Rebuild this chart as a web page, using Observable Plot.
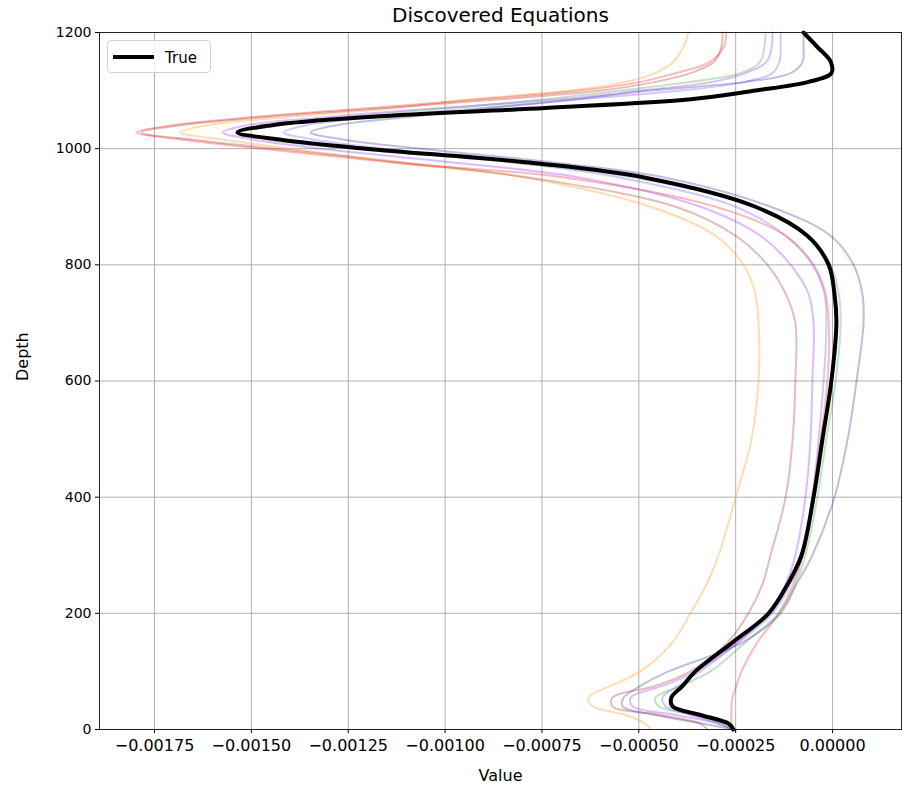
<!DOCTYPE html>
<html><head><meta charset="utf-8">
<script src="https://cdn.jsdelivr.net/npm/d3@7"></script>
<script src="https://cdn.jsdelivr.net/npm/@observablehq/plot@0.6"></script>
<style>
body{margin:0;background:#fff;font-family:"DejaVu Sans",sans-serif}
#wrap{position:relative;width:905px;height:785px}
#legend{position:absolute;left:107px;top:40px;width:104px;height:33px;border:1px solid #d0d0d0;border-radius:4px;background:rgba(255,255,255,0.85);box-sizing:border-box}
</style></head><body><div id="wrap"></div>
<script>
const depth = [0,10,25,40,55,75,100,150,200,250,300,400,500,600,700,750,800,850,900,950,975,1000,1015,1028,1040,1055,1070,1085,1100,1115,1130,1150,1175,1200];

const trueVals = [-0.000256,-0.000268,-0.000341,-0.000413,-0.000416,-0.000387,-0.000354,-0.000258,-0.000165,-0.000116,-0.000080,-0.000049,-0.000026,-0.000003,0.000010,0.000005,-0.000010,-0.000065,-0.000199,-0.000483,-0.000767,-0.001205,-0.001420,-0.001536,-0.001451,-0.001187,-0.000741,-0.000366,-0.000199,-0.000062,-0.000003,-0.000005,-0.000039,-0.000075];

const orangeVals = [-0.000470,-0.000483,-0.000534,-0.000619,-0.000630,-0.000573,-0.000496,-0.000413,-0.000367,-0.000325,-0.000294,-0.000250,-0.000209,-0.000191,-0.000191,-0.000199,-0.000230,-0.000302,-0.000470,-0.000792,-0.001115,-0.001399,-0.001567,-0.001683,-0.001618,-0.001399,-0.001128,-0.000934,-0.000676,-0.000534,-0.000457,-0.000410,-0.000385,-0.000372];

const redVals = [-0.000256,-0.000261,-0.000261,-0.000261,-0.000258,-0.000248,-0.000235,-0.000194,-0.000139,-0.000101,-0.000077,-0.000052,-0.000031,-0.000013,-0.000010,-0.000018,-0.000049,-0.000121,-0.000302,-0.000689,-0.001115,-0.001476,-0.001670,-0.001796,-0.001709,-0.001489,-0.001192,-0.000909,-0.000650,-0.000496,-0.000405,-0.000315,-0.000281,-0.000274];

const brownVals = [-0.000323,-0.000341,-0.000444,-0.000568,-0.000568,-0.000457,-0.000367,-0.000271,-0.000217,-0.000181,-0.000160,-0.000121,-0.000103,-0.000096,-0.000096,-0.000121,-0.000168,-0.000250,-0.000405,-0.000780,-0.001089,-0.001438,-0.001644,-0.001784,-0.001688,-0.001456,-0.001154,-0.000857,-0.000599,-0.000457,-0.000367,-0.000305,-0.000287,-0.000284];

const purpleVals = [-0.000258,-0.000294,-0.000405,-0.000516,-0.000521,-0.000439,-0.000354,-0.000245,-0.000165,-0.000121,-0.000096,-0.000070,-0.000057,-0.000052,-0.000049,-0.000062,-0.000108,-0.000186,-0.000341,-0.000650,-0.000960,-0.001322,-0.001489,-0.001574,-0.001515,-0.001296,-0.001012,-0.000702,-0.000496,-0.000310,-0.000225,-0.000170,-0.000157,-0.000155];

const violetVals = [-0.000256,-0.000294,-0.000367,-0.000431,-0.000439,-0.000398,-0.000341,-0.000243,-0.000155,-0.000108,-0.000077,-0.000052,-0.000036,-0.000023,-0.000016,-0.000021,-0.000052,-0.000121,-0.000250,-0.000547,-0.000805,-0.001154,-0.001334,-0.001417,-0.001360,-0.001167,-0.000909,-0.000650,-0.000392,-0.000225,-0.000155,-0.000137,-0.000134,-0.000134];

const greenVals = [-0.000256,-0.000284,-0.000354,-0.000449,-0.000457,-0.000392,-0.000315,-0.000225,-0.000139,-0.000096,-0.000070,-0.000039,-0.000016,0.000008,0.000021,0.000016,-0.000005,-0.000062,-0.000199,-0.000509,-0.000805,-0.001231,-0.001451,-0.001528,-0.001463,-0.001244,-0.000986,-0.000741,-0.000547,-0.000367,-0.000238,-0.000186,-0.000176,-0.000173];

const slateVals = [-0.000256,-0.000333,-0.000457,-0.000542,-0.000539,-0.000496,-0.000423,-0.000232,-0.000134,-0.000093,-0.000052,0.000005,0.000039,0.000062,0.000080,0.000077,0.000054,-0.000005,-0.000160,-0.000431,-0.000702,-0.001063,-0.001257,-0.001347,-0.001283,-0.001089,-0.000883,-0.000663,-0.000470,-0.000225,-0.000108,-0.000077,-0.000075,-0.000075];

const seriesNames = ["orange","red","brown","purple","violet","green","slateblue"];
const seriesValues = [orangeVals, redVals, brownVals, purpleVals, violetVals, greenVals, slateVals];
const seriesColors = ["#ff9a1f","#ff2a2a","#a83232","#9b30ff","#7a5cff","#2ca02c","#2b2b8f"];
const seriesOpacity = [0.35,0.33,0.32,0.33,0.33,0.3,0.3];

const xTicks = [-0.00175,-0.0015,-0.00125,-0.001,-0.00075,-0.0005,-0.00025,0];
const yTicks = [0,200,400,600,800,1000,1200];

const titleText = "Discovered Equations";
const xLabel = "Value";
const yLabel = "Depth";
const legendLabel = "True";

const rows = [];
seriesNames.forEach((s, i) => depth.forEach((d, j) => rows.push({series: s, depth: d, value: seriesValues[i][j]})));
const trueRows = depth.map((d, j) => ({depth: d, value: trueVals[j]}));

const fmt = d => d.toFixed(5).replace("-", "\u2212");

const marks = [
  Plot.gridX(xTicks, {stroke: "#b0b0b0", strokeOpacity: 1, strokeWidth: 1}),
  Plot.gridY(yTicks, {stroke: "#b0b0b0", strokeOpacity: 1, strokeWidth: 1}),
];
seriesNames.forEach((s, i) => {
  marks.push(Plot.line(rows.filter(r => r.series === s), {x: "value", y: "depth", stroke: seriesColors[i], strokeOpacity: seriesOpacity[i], strokeWidth: 2, curve: "catmull-rom"}));
});
marks.push(
  Plot.line(trueRows, {x: "value", y: "depth", stroke: "#000", strokeWidth: 4, curve: "catmull-rom"}),
  Plot.frame({stroke: "#222", strokeWidth: 1}),
  Plot.axisX(xTicks, {tickSize: 4, tickPadding: 6, fontSize: 16, tickFormat: fmt, label: null}),
  Plot.axisY(yTicks, {tickSize: 4, tickPadding: 4, fontSize: 14, tickFormat: d => String(d), label: null}),
  Plot.text([xLabel], {frameAnchor: "bottom", lineAnchor: "middle", dy: 46, fontSize: 16, fill: "#000"}),
  Plot.text([yLabel], {frameAnchor: "left", dx: -77, rotate: -90, fontSize: 16, fill: "#000"}),
  Plot.text([titleText], {frameAnchor: "top", lineAnchor: "middle", dy: -17, fontSize: 20, fill: "#000"})
);

const chart = Plot.plot({
  width: 905, height: 785,
  marginTop: 32, marginBottom: 56, marginLeft: 99, marginRight: 4,
  style: {fontFamily: "'DejaVu Sans', sans-serif", color: "#000", background: "#fff"},
  x: {domain: [-0.001892, 0.000178]},
  y: {domain: [0, 1200]},
  marks
});
const wrap = document.getElementById("wrap");
wrap.appendChild(chart);

const leg = document.createElement("div");
leg.id = "legend";
leg.innerHTML = `<svg width="104" height="33" style="position:absolute;left:0;top:0"><line x1="5" x2="46" y1="16" y2="16" stroke="#000" stroke-width="4"/><text x="57" y="21.5" font-size="15" font-family="DejaVu Sans, sans-serif">${legendLabel}</text></svg>`;
wrap.appendChild(leg);
</script></body></html>
